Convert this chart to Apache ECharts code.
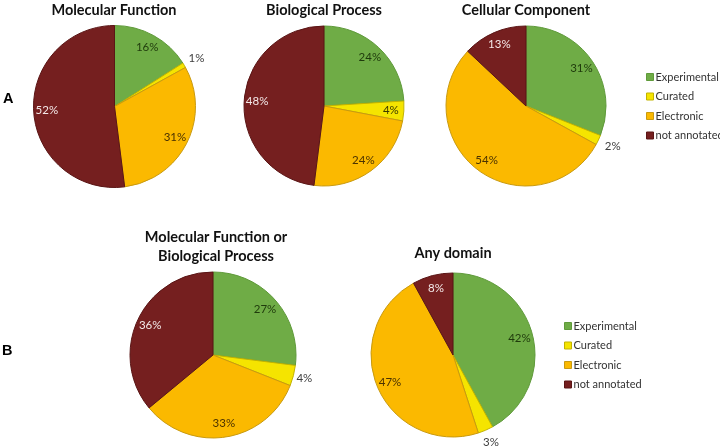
<!DOCTYPE html>
<html>
<head>
<meta charset="utf-8">
<script src="https://cdn.jsdelivr.net/npm/echarts@6/dist/echarts.min.js"></script>
<style>html,body{margin:0;padding:0;background:#fff;}#c{width:720px;height:448px;}</style>
</head>
<body>
<div id="c"></div>
<script>
// ---- data ----
const categories = ['Experimental', 'Curated', 'Electronic', 'not annotated'];
const mfValues   = [16, 1, 31, 52];
const bpValues   = [24, 4, 24, 48];
const ccValues   = [31, 2, 54, 13];
const mfbpValues = [27, 4, 33, 36];
const anyValues  = [42, 3, 47, 8];
const pieTitles  = ['Molecular Function', 'Biological Process', 'Cellular Component',
                    'Molecular Function or\nBiological Process', 'Any domain'];
const panelLabels = ['A', 'B'];

// ---- styles / layout ----
const colors  = ['#6fac46', '#f5e400', '#fbb900', '#751f1f'];
const borders = ['#5f9a3a', '#c2b300', '#c99a10', '#5a1515'];
const labelColors = ['#1f3a0c', '#3a3a00', '#4a3200', '#f4e8e8'];
const FONT = 'Lato, "Open Sans", sans-serif';

const pies = [
  { values: mfValues,   center: [114.5, 106.5], r: 81, outside: [1], outR: 1.28, titleXY: [114, 1] },
  { values: bpValues,   center: [324, 106],     r: 80, outside: [],  outR: 1.28, titleXY: [324, 1] },
  { values: ccValues,   center: [526, 106],     r: 80, outside: [1], outR: 1.32, titleXY: [526, 1] },
  { values: mfbpValues, center: [213, 355],     r: 83, outside: [1], outR: 1.2,  titleXY: [216, 228] },
  { values: anyValues,  center: [453, 355],     r: 82, outside: [1], outR: 1.26, titleXY: [453, 244] }
];

const series = [];
// main pies first (legend colours come from them)
pies.forEach((p, pi) => {
  series.push({
    type: 'pie', name: 'pie' + pi, center: p.center, radius: [0, p.r],
    startAngle: 90, clockwise: true, silent: true, animation: false,
    avoidLabelOverlap: false, label: { show: false }, labelLine: { show: false },
    data: categories.map((c, i) => ({
      name: c, value: p.values[i],
      itemStyle: { color: colors[i], borderColor: borders[i], borderWidth: 1 }
    }))
  });
});
// label overlays: inside labels and outside labels
pies.forEach((p, pi) => {
  series.push({
    type: 'pie', name: 'in' + pi, center: p.center, radius: [p.r * 0.6, p.r],
    startAngle: 90, clockwise: true, silent: true, animation: false,
    avoidLabelOverlap: false, labelLine: { show: false },
    itemStyle: { color: 'rgba(0,0,0,0)', borderWidth: 0 },
    label: { show: true, position: 'inside', fontFamily: FONT, fontSize: 11.5, formatter: '{c}%' },
    data: categories.map((c, i) => ({
      name: c, value: p.values[i],
      itemStyle: { color: 'rgba(0,0,0,0)' },
      label: { show: p.outside.indexOf(i) < 0, color: labelColors[i] }
    }))
  });
  series.push({
    type: 'pie', name: 'out' + pi, center: p.center, radius: [p.r, p.r * p.outR],
    startAngle: 90, clockwise: true, silent: true, animation: false,
    avoidLabelOverlap: false, labelLine: { show: false },
    itemStyle: { color: 'rgba(0,0,0,0)', borderWidth: 0 },
    label: { show: true, position: 'inside', fontFamily: FONT, fontSize: 11.5, color: '#404040', formatter: '{c}%' },
    data: categories.map((c, i) => ({
      name: c, value: p.values[i],
      itemStyle: { color: 'rgba(0,0,0,0)' },
      label: { show: p.outside.indexOf(i) >= 0 }
    }))
  });
});

const titles = pies.map((p, pi) => ({
  text: pieTitles[pi], left: p.titleXY[0], top: p.titleXY[1], textAlign: 'center', padding: 0,
  textStyle: { fontFamily: FONT, fontWeight: 'bold', fontSize: 14.5, color: '#111', lineHeight: 19 }
}));
titles.push({ text: panelLabels[0], left: 3, top: 91, padding: 0,
  textStyle: { fontFamily: 'Liberation Sans, Arial, sans-serif', fontWeight: 'bold', fontSize: 14.5, color: '#000' } });
titles.push({ text: panelLabels[1], left: 2, top: 343, padding: 0,
  textStyle: { fontFamily: 'Liberation Sans, Arial, sans-serif', fontWeight: 'bold', fontSize: 14.5, color: '#000' } });

function makeLegend(left, top) {
  return {
    orient: 'vertical', left: left, top: top, padding: 0, itemGap: 5.5,
    itemWidth: 7, itemHeight: 7, icon: 'rect', selectedMode: false,
    textStyle: { fontFamily: FONT, fontSize: 11, color: '#333', padding: [0, 0, 0, -3], lineHeight: 14 },
    data: categories.map((c, i) => ({
      name: c, icon: 'rect',
      itemStyle: { color: colors[i], borderColor: borders[i], borderWidth: 1 }
    }))
  };
}

const chart = echarts.init(document.getElementById('c'), null, { renderer: 'canvas' });
chart.setOption({
  backgroundColor: '#fff',
  animation: false,
  title: titles,
  legend: [makeLegend(646, 70), makeLegend(564, 319)],
  series: series
});
</script>
</body>
</html>
